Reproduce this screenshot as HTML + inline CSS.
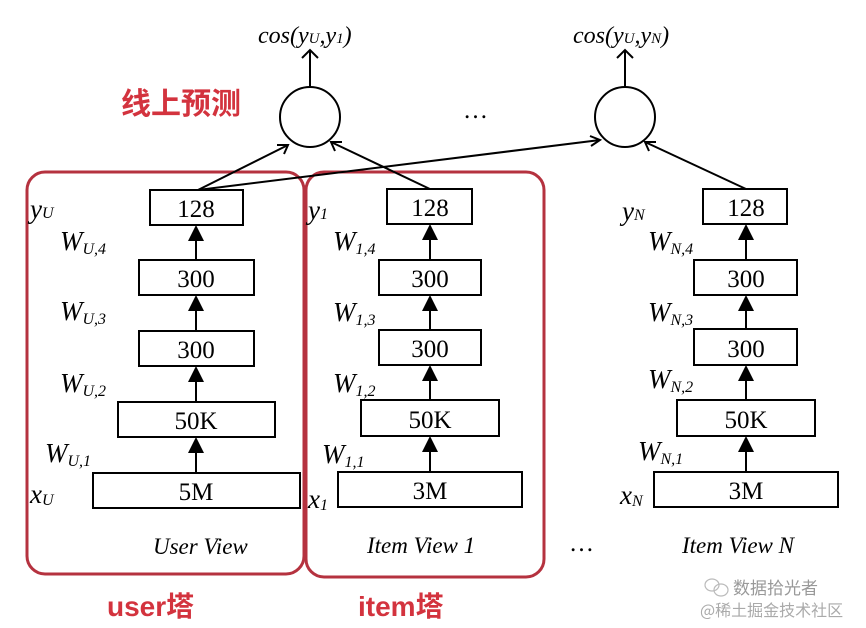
<!DOCTYPE html>
<html><head><meta charset="utf-8"><style>
html,body{margin:0;padding:0;background:#fff;}
svg{display:block;}
.t{font-family:"Liberation Serif",serif;font-size:25px;fill:#000;}
.i{font-family:"Liberation Serif",serif;font-style:italic;fill:#000;}
.r{font-family:"Liberation Sans","Noto Sans CJK SC",sans-serif;font-weight:bold;fill:#d3333e;}
</style></head><body>
<svg width="866" height="628" viewBox="0 0 866 628" xmlns="http://www.w3.org/2000/svg">
<rect x="27" y="172" width="277" height="402" rx="18" fill="none" stroke="#b5323f" stroke-width="3"/>
<rect x="306" y="172" width="238" height="405" rx="18" fill="none" stroke="#b5323f" stroke-width="3"/>

<g fill="none" stroke="#000" stroke-width="2">
<circle cx="310" cy="117" r="30"/>
<circle cx="625" cy="117" r="30"/>
<line x1="310" y1="87" x2="310" y2="50"/>
<polyline points="302,58 310,50 318,58"/>
<line x1="625" y1="87" x2="625" y2="50"/>
<polyline points="617,58 625,50 633,58"/>
<line x1="198" y1="190" x2="288" y2="145"/>
<polyline points="277,145 288,145 284,154"/>
<line x1="198" y1="190" x2="600" y2="140"/>
<polyline points="590,136 600,140 591,146"/>
<line x1="432" y1="190" x2="331" y2="142"/>
<polyline points="335,151 331,142 342,142"/>
<line x1="746" y1="189" x2="645" y2="142"/>
<polyline points="649,151 645,142 656,142"/>
</g>

<g fill="#fff" stroke="#000" stroke-width="2">
<rect x="150" y="190" width="93" height="35"/>
<rect x="139" y="260" width="115" height="35"/>
<rect x="139" y="331" width="115" height="35"/>
<rect x="118" y="402" width="157" height="35"/>
<rect x="93" y="473" width="207" height="35"/>
<rect x="387" y="189" width="85" height="35"/>
<rect x="379" y="260" width="102" height="35"/>
<rect x="379" y="330" width="102" height="35"/>
<rect x="361" y="400" width="138" height="36"/>
<rect x="338" y="472" width="184" height="35"/>
<rect x="703" y="189" width="84" height="35"/>
<rect x="694" y="260" width="103" height="35"/>
<rect x="694" y="329" width="103" height="36"/>
<rect x="677" y="400" width="138" height="36"/>
<rect x="654" y="472" width="184" height="35"/>
</g>

<g stroke="#000" stroke-width="2">
<line x1="196" y1="260" x2="196" y2="238"/><line x1="196" y1="331" x2="196" y2="308"/><line x1="196" y1="402" x2="196" y2="379"/><line x1="196" y1="473" x2="196" y2="450"/>
<line x1="430" y1="260" x2="430" y2="237"/><line x1="430" y1="330" x2="430" y2="308"/><line x1="430" y1="400" x2="430" y2="378"/><line x1="430" y1="472" x2="430" y2="449"/>
<line x1="746" y1="260" x2="746" y2="237"/><line x1="746" y1="329" x2="746" y2="308"/><line x1="746" y1="400" x2="746" y2="378"/><line x1="746" y1="472" x2="746" y2="449"/>
</g>
<g fill="#000">
<polygon points="196,225 188,241 204,241"/><polygon points="196,295 188,311 204,311"/><polygon points="196,366 188,382 204,382"/><polygon points="196,437 188,453 204,453"/>
<polygon points="430,224 422,240 438,240"/><polygon points="430,295 422,311 438,311"/><polygon points="430,365 422,381 438,381"/><polygon points="430,436 422,452 438,452"/>
<polygon points="746,224 738,240 754,240"/><polygon points="746,295 738,311 754,311"/><polygon points="746,365 738,381 754,381"/><polygon points="746,436 738,452 754,452"/>
</g>

<g class="t" text-anchor="middle">
<text x="196" y="217">128</text><text x="196" y="287">300</text><text x="196" y="358">300</text><text x="196" y="429">50K</text><text x="196" y="500">5M</text>
<text x="430" y="216">128</text><text x="430" y="287">300</text><text x="430" y="357">300</text><text x="430" y="428">50K</text><text x="430" y="499">3M</text>
<text x="746" y="216">128</text><text x="746" y="287">300</text><text x="746" y="357">300</text><text x="746" y="428">50K</text><text x="746" y="499">3M</text>
</g>

<text class="i" x="258" y="43" font-size="24">cos(y<tspan font-size="15">U</tspan>,y<tspan font-size="15">1</tspan>)</text>
<text class="i" x="573" y="43" font-size="24">cos(y<tspan font-size="15">U</tspan>,y<tspan font-size="15">N</tspan>)</text>

<g class="i" font-size="27">
<text x="30" y="218">y<tspan font-size="16">U</tspan></text>
<text x="60" y="250">W<tspan font-size="16" dy="4">U,4</tspan></text>
<text x="60" y="320">W<tspan font-size="16" dy="4">U,3</tspan></text>
<text x="60" y="392">W<tspan font-size="16" dy="4">U,2</tspan></text>
<text x="45" y="462">W<tspan font-size="16" dy="4">U,1</tspan></text>
<text x="30" y="503">x<tspan font-size="16" dy="2">U</tspan></text>
<text x="308" y="219">y<tspan font-size="16">1</tspan></text>
<text x="333" y="250">W<tspan font-size="16" dy="4">1,4</tspan></text>
<text x="333" y="321">W<tspan font-size="16" dy="4">1,3</tspan></text>
<text x="333" y="392">W<tspan font-size="16" dy="4">1,2</tspan></text>
<text x="322" y="463">W<tspan font-size="16" dy="4">1,1</tspan></text>
<text x="308" y="508">x<tspan font-size="16" dy="2">1</tspan></text>
<text x="622" y="220">y<tspan font-size="16">N</tspan></text>
<text x="648" y="250">W<tspan font-size="16" dy="4">N,4</tspan></text>
<text x="648" y="321">W<tspan font-size="16" dy="4">N,3</tspan></text>
<text x="648" y="388">W<tspan font-size="16" dy="4">N,2</tspan></text>
<text x="638" y="460">W<tspan font-size="16" dy="4">N,1</tspan></text>
<text x="620" y="504">x<tspan font-size="16" dy="2">N</tspan></text>
</g>

<g class="i" font-size="23">
<text x="153" y="554">User View</text>
<text x="367" y="553">Item View 1</text>
<text x="682" y="553">Item View N</text>
</g>
<text class="t" x="463" y="118" font-size="20">…</text>
<text class="t" x="569" y="551" font-size="20">…</text>

<text class="r" x="121" y="114" font-size="30">线上预测</text>
<text class="r" x="107" y="616" font-size="28">user塔</text>
<text class="r" x="358" y="616" font-size="28">item塔</text>

<g fill="none" stroke="#bbb" stroke-width="1.2">
<ellipse cx="712" cy="585" rx="7" ry="6"/><ellipse cx="721" cy="590" rx="7" ry="6"/>
</g>
<text x="733" y="594" font-family="'Noto Sans CJK SC',sans-serif" font-size="17" fill="#999">数据拾光者</text>
<text x="700" y="616" font-family="'Noto Sans CJK SC',sans-serif" font-size="16" fill="#aaa">@稀土掘金技术社区</text>
</svg>
</body></html>
